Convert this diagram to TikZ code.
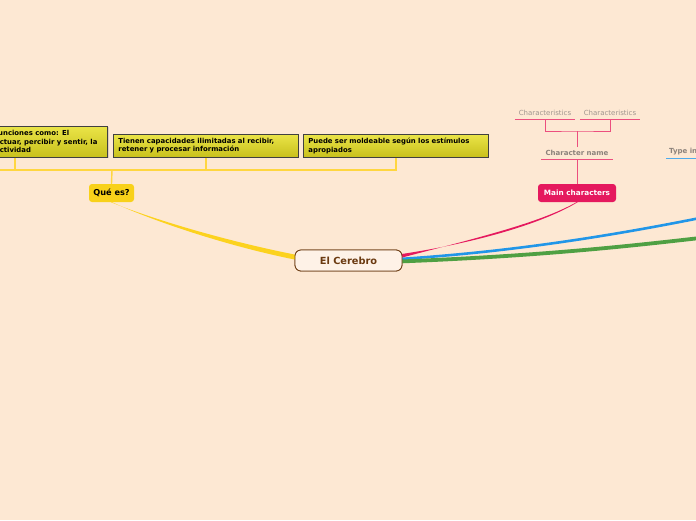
\documentclass[tikz,border=0pt]{standalone}
\usepackage{fontspec}
\setmainfont{DejaVu Sans}
\usetikzlibrary{calc,positioning,shadows}
\definecolor{bgpeach}{HTML}{FDE8D3}
\definecolor{brainbrown}{HTML}{6B3A10}
\definecolor{queyellow}{HTML}{F8D11A}
\definecolor{lineyellow}{HTML}{FFD640}
\definecolor{branchyellow}{HTML}{FCD21E}
\definecolor{boxtop}{HTML}{EAE447}
\definecolor{boxbot}{HTML}{C8C01C}
\definecolor{mainpink}{HTML}{E5195E}
\definecolor{twigpink}{HTML}{EC4F7E}
\definecolor{labelgray}{HTML}{A0958E}
\definecolor{namegray}{HTML}{8C827B}
\definecolor{branchblue}{HTML}{2196E8}
\definecolor{branchgreen}{HTML}{4FA043}

\begin{document}
\begin{tikzpicture}[
    x=1pt, y=-1pt,
    central/.style={draw=brainbrown, line width=0.8pt, fill=bgpeach!55!white,
                    rounded corners=6pt, minimum width=107pt, minimum height=21pt,
                    font=\fontsize{9.8}{11}\selectfont\bfseries, text=brainbrown},
    topic/.style={rounded corners=3pt, minimum height=18pt, inner xsep=4pt,
                  font=\fontsize{7.3}{9}\selectfont\bfseries},
    ideabox/.style={draw=black!75, line width=0.8pt, top color=boxtop, bottom color=boxbot,
                    minimum width=185pt, inner xsep=5pt, inner ysep=0pt,
                    drop shadow={shadow xshift=1pt, shadow yshift=-1pt, opacity=0.25}},
    ideatext/.style={align=left, font=\fontsize{6.9}{8.2}\selectfont\bfseries},
    twig/.style={draw=lineyellow, line width=1.4pt},
    pinktwig/.style={draw=twigpink, line width=1pt},
    subtopic/.style={inner sep=3pt, text=namegray, font=\fontsize{7}{8}\selectfont\bfseries},
    detail/.style={inner sep=3pt, minimum width=60pt, text=labelgray,
                   font=\fontsize{7}{8}\selectfont},
  ]
  \useasboundingbox (0,0) rectangle (696,520);
  \clip (0,0) rectangle (696,520);
  \fill[bgpeach] (0,0) rectangle (696,520);

  % centre and main topics
  \node[central] (cerebro) at (348.5,260.5) {El Cerebro};
  \node[topic, fill=queyellow, minimum width=45pt, font=\fontsize{8.2}{9}\selectfont\bfseries] (que) at (111.5,193) {Qué es?};
  \node[topic, fill=mainpink, text=white, minimum width=78pt] (main) at (577,193) {Main characters};

  % branches
  \coordinate (bluelink) at (700,218);
  \coordinate (greenlink) at (700,238);
  \draw[branchblue, line width=2.6pt] ($(cerebro.east)+(-3,-1.5)$)
    .. controls (510,252) and (610,236) .. (bluelink);
  \draw[branchgreen, line width=3.8pt] ($(cerebro.east)+(-3,1)$)
    .. controls (540,256) and (630,246) .. (greenlink);
  \fill[mainpink] ($(cerebro.east)+(-4,-6)$) .. controls (470,244) and (540,225) .. ($(main.south)+(0.6,0)$)
    -- ($(main.south)+(-0.6,0)$) .. controls (538,224) and (468,240) .. ($(cerebro.east)+(-4,-2)$) -- cycle;
  \fill[branchyellow] ($(que.south)+(0.6,0)$) .. controls (160,224) and (235,248) .. ($(cerebro.west)+(5,0)$)
    -- ($(cerebro.west)+(5,-5)$) .. controls (235,243) and (160,222) .. ($(que.south)+(-0.6,0)$) -- cycle;
  \node[central] at (cerebro) {El Cerebro};

  % ideas of "Qué es?"
  \node[ideabox, anchor=north east, minimum height=31pt] (idea1) at (108,126) {};
  \node[ideatext, anchor=west, inner sep=0pt] (idea1text) at (-5,141.5)
    {funciones como: El\\actuar, percibir y sentir, la\\actividad};
  \node[ideabox, anchor=north west, minimum height=23pt, text width=175pt, ideatext] (idea2) at (113,134)
    {Tienen capacidades ilimitadas al recibir,\\retener y procesar información};
  \node[ideabox, anchor=north west, minimum height=23pt, text width=175pt, ideatext] (idea3) at (303,134)
    {Puede ser moldeable según los estímulos\\apropiados};

  \coordinate (rail) at (112,170);
  \draw[twig] (que.north) -- (rail);
  \draw[twig] (-5,170) -- (idea3.south |- rail) -- (idea3.south);
  \draw[twig] (idea1.south) -- (idea1.south |- rail);
  \draw[twig] (idea2.south) -- (idea2.south |- rail);

  % main characters
  \node[subtopic, anchor=south, minimum width=71pt] (charname) at (577,159) {Character name};
  \node[detail, anchor=south] (trait1) at (545,119) {Characteristics};
  \node[detail, anchor=south] (trait2) at (610,119) {Characteristics};
  \coordinate (traitjoint) at (577,131);
  \draw[pinktwig] (main.north) -- (charname.south);
  \draw[pinktwig] (charname.south west) -- (charname.south east);
  \draw[pinktwig] (trait1.south west) -- (trait1.south east);
  \draw[pinktwig] (trait2.south west) -- (trait2.south east);
  \draw[pinktwig] (charname.north) -- (traitjoint);
  \draw[pinktwig] (trait1.south) |- (traitjoint) -| (trait2.south);

  % type
  \node[subtopic, anchor=south west, minimum width=60pt, align=left, text width=54pt] (typein) at (666,158) {Type in};
  \draw[branchblue!80, line width=1pt] (typein.south west) -- (typein.south east);
\end{tikzpicture}
\end{document}
